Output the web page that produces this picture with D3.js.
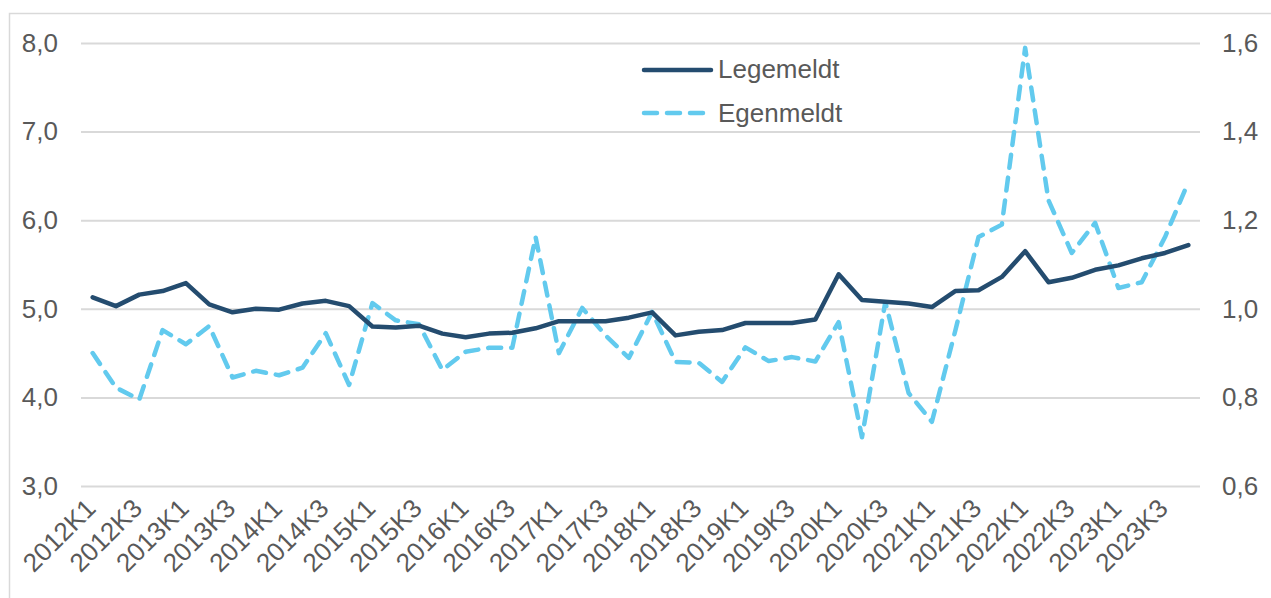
<!DOCTYPE html>
<html>
<head>
<meta charset="utf-8">
<script src="https://cdn.jsdelivr.net/npm/d3@7"></script>
<style>
  body { margin: 0; background: #fff; }
  svg { display: block; font-family: "Liberation Sans", Arial, sans-serif; }
</style>
</head>
<body>
<div id="chart"></div>
<script>
// Quarters 2012K1 - 2023K4
const quarters = [
  "2012K1","2012K2","2012K3","2012K4","2013K1","2013K2","2013K3","2013K4",
  "2014K1","2014K2","2014K3","2014K4","2015K1","2015K2","2015K3","2015K4",
  "2016K1","2016K2","2016K3","2016K4","2017K1","2017K2","2017K3","2017K4",
  "2018K1","2018K2","2018K3","2018K4","2019K1","2019K2","2019K3","2019K4",
  "2020K1","2020K2","2020K3","2020K4","2021K1","2021K2","2021K3","2021K4",
  "2022K1","2022K2","2022K3","2022K4","2023K1","2023K2","2023K3","2023K4"
];

// Legemeldt (left axis)
const legemeldt = [
  5.13, 5.03, 5.16, 5.20, 5.29, 5.05, 4.96, 5.00,
  4.99, 5.06, 5.09, 5.03, 4.80, 4.79, 4.81, 4.72,
  4.68, 4.72, 4.73, 4.78, 4.86, 4.86, 4.86, 4.90,
  4.96, 4.70, 4.74, 4.76, 4.84, 4.84, 4.84, 4.88,
  5.39, 5.10, 5.08, 5.06, 5.02, 5.20, 5.21, 5.36,
  5.65, 5.30, 5.35, 5.44, 5.49, 5.57, 5.63, 5.72
];

// Egenmeldt (right axis)
const egenmeldt = [
  0.900, 0.822, 0.795, 0.952, 0.920, 0.961, 0.845, 0.860,
  0.850, 0.867, 0.945, 0.828, 1.013, 0.974, 0.965, 0.862,
  0.903, 0.912, 0.912, 1.162, 0.900, 1.002, 0.940, 0.889,
  0.993, 0.880, 0.878, 0.835, 0.913, 0.882, 0.891, 0.881,
  0.970, 0.710, 1.015, 0.810, 0.745, 0.950, 1.162, 1.190,
  1.589, 1.245, 1.126, 1.194, 1.047, 1.060, 1.162, 1.286
];

const leftTicks = [3, 4, 5, 6, 7, 8];
const rightTicks = [0.6, 0.8, 1.0, 1.2, 1.4, 1.6];
const seriesNames = ["Legemeldt", "Egenmeldt"];

const width = 1271;
const height = 598;
const margin = { top: 43, right: 71, bottom: 112, left: 81 };
const navy = "#244c6f";
const sky = "#62caee";
const textColor = "#595959";
const gridColor = "#d9d9d9";
const fontSize = "26px";

const svg = d3.select("#chart")
  .append("svg")
  .attr("width", width)
  .attr("height", height);

// outer frame
svg.append("rect")
  .attr("x", 9.5)
  .attr("y", 13.5)
  .attr("width", 1400)
  .attr("height", 800)
  .attr("fill", "none")
  .attr("stroke", gridColor)
  .attr("stroke-width", 1.5);

const x = d3.scaleBand()
  .domain(quarters)
  .range([margin.left, width - margin.right])
  .padding(0);

const yLeft = d3.scaleLinear()
  .domain([3, 8])
  .range([height - margin.bottom, margin.top]);

const yRight = d3.scaleLinear()
  .domain([0.6, 1.6])
  .range([height - margin.bottom, margin.top]);

const fmt = d => d.toFixed(1).replace(".", ",");
const cx = d => x(d) + x.bandwidth() / 2;

// gridlines + left axis
svg.append("g")
  .attr("transform", `translate(${margin.left},0)`)
  .call(d3.axisLeft(yLeft).tickValues(leftTicks).tickFormat(fmt)
    .tickSize(-(width - margin.left - margin.right)).tickPadding(23))
  .call(g => g.select(".domain").remove())
  .call(g => g.selectAll(".tick line").attr("stroke", gridColor).attr("stroke-width", 2))
  .call(g => g.selectAll("text")
    .attr("fill", textColor)
    .style("font-size", fontSize));

// right axis
svg.append("g")
  .attr("transform", `translate(${width - margin.right},0)`)
  .call(d3.axisRight(yRight).tickValues(rightTicks).tickFormat(fmt)
    .tickSize(0).tickPadding(22))
  .call(g => g.select(".domain").remove())
  .call(g => g.selectAll("text")
    .attr("fill", textColor)
    .style("font-size", fontSize));

// x axis labels, every second quarter
svg.append("g")
  .selectAll("text")
  .data(quarters.filter((d, i) => i % 2 === 0))
  .join("text")
  .attr("transform", d => `translate(${cx(d) + 4.5},510) rotate(-45)`)
  .attr("text-anchor", "end")
  .attr("fill", textColor)
  .style("font-size", fontSize)
  .text(d => d);

const lineLeft = d3.line()
  .x((d, i) => cx(quarters[i]))
  .y(d => yLeft(d));

const lineRight = d3.line()
  .x((d, i) => cx(quarters[i]))
  .y(d => yRight(d));

svg.append("path")
  .datum(egenmeldt)
  .attr("d", lineRight)
  .attr("fill", "none")
  .attr("stroke", sky)
  .attr("stroke-width", 4.5)
  .attr("stroke-linecap", "round")
  .attr("stroke-linejoin", "round")
  .attr("stroke-dasharray", "13,10");

svg.append("path")
  .datum(legemeldt)
  .attr("d", lineLeft)
  .attr("fill", "none")
  .attr("stroke", navy)
  .attr("stroke-width", 4.5)
  .attr("stroke-linecap", "round")
  .attr("stroke-linejoin", "round");

// legend
const legend = svg.append("g");
legend.append("line")
  .attr("x1", 644).attr("x2", 711)
  .attr("y1", 70).attr("y2", 70)
  .attr("stroke", navy)
  .attr("stroke-width", 4.5)
  .attr("stroke-linecap", "round");
legend.append("line")
  .attr("x1", 644).attr("x2", 703)
  .attr("y1", 113).attr("y2", 113)
  .attr("stroke", sky)
  .attr("stroke-width", 4.5)
  .attr("stroke-linecap", "round")
  .attr("stroke-dasharray", "13,10");
legend.selectAll("text")
  .data(seriesNames)
  .join("text")
  .attr("x", 718)
  .attr("y", (d, i) => i === 0 ? 78 : 122)
  .attr("fill", textColor)
  .style("font-size", fontSize)
  .text(d => d);
</script>
</body>
</html>
